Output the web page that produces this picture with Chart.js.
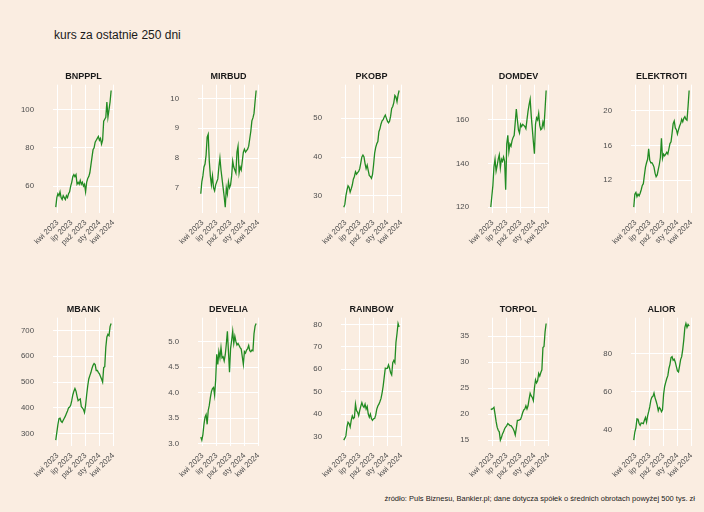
<!DOCTYPE html>
<html>
<head>
<meta charset="utf-8">
<script src="https://cdn.jsdelivr.net/npm/chart.js@4.4.1/dist/chart.umd.min.js"></script>
<style>
  body { margin: 0; width: 704px; height: 512px; background: #FAEDE1; position: relative; overflow: hidden;
         font-family: 'Liberation Sans', Arial, sans-serif; }
  #title { position: absolute; left: 54px; top: 28px; font-size: 12px; color: #1a1a1a; }
  #caption { position: absolute; right: 9px; top: 494px; font-size: 7.5px; color: #1a1a1a; }
  canvas { position: absolute; }
</style>
</head>
<body>
<div id="title">kurs za ostatnie 250 dni</div>
<div id="caption">źródło: Puls Biznesu, Bankier.pl; dane dotycza spółek o średnich obrotach powyżej 500 tys. zł</div>
<script>
// weekly closes
const dates = [
  '2023-03-20','2023-03-27','2023-04-03','2023-04-10','2023-04-17','2023-04-24','2023-05-01','2023-05-08',
  '2023-05-15','2023-05-22','2023-05-29','2023-06-05','2023-06-12','2023-06-19','2023-06-26','2023-07-03',
  '2023-07-10','2023-07-17','2023-07-24','2023-07-31','2023-08-07','2023-08-14','2023-08-21','2023-08-28',
  '2023-09-04','2023-09-11','2023-09-18','2023-09-25','2023-10-02','2023-10-09','2023-10-16','2023-10-23',
  '2023-10-30','2023-11-06','2023-11-13','2023-11-20','2023-11-27','2023-12-04','2023-12-11','2023-12-18',
  '2023-12-25','2024-01-01','2024-01-08','2024-01-15','2024-01-22','2024-01-29','2024-02-05','2024-02-12',
  '2024-02-19','2024-02-26','2024-03-04','2024-03-11','2024-03-18'
];

const bnpppl = [49,54,56,55,57,54,53,55,54,53,55,54,56,57,60,62,65,66,65,66,61,62,61,63,61,62,60,61,
  57,62,64,65,67,71,75,79,80,83,84,85,86,84,85,82,84,94,95,96,104,96,100,104,110];
const mirbud = [6.8,7.2,7.4,7.7,7.8,8.1,8.7,8.8,7.9,7.4,7.1,7.4,7.0,6.9,7.1,7.2,7.3,7.7,8.0,7.6,7.3,7.0,
  6.7,6.35,7.0,6.8,7.2,7.0,7.1,7.4,7.9,7.7,7.6,7.5,8.2,8.4,7.5,7.7,7.6,7.9,8.2,8.3,8.2,8.25,8.3,8.4,
  8.65,8.9,9.25,9.35,9.5,9.9,10.27];
const pkobp = [27.1,27.8,30.0,31.5,32.6,32.2,31.0,31.8,32.8,34.3,35.0,36.2,35.6,36.0,36.3,37.0,38.5,40.0,
  40.5,40.0,38.3,37.0,37.9,36.5,35.2,35.0,34.5,35.5,38.0,41.0,42.5,43.4,44.0,46.5,47.3,48.5,49.3,49.6,
  50.3,50.8,50.0,49.2,48.8,49.2,50.5,52.5,53.0,54.0,55.8,55.4,54.2,56.0,57.1];
const domdev = [120,125,130,138.5,142,136.5,139,142,144,138,142,141,143,141,128,149,153,145.5,149,148,
  150.5,152,153,159,165,160,155.5,154,158,157,158,157.5,157,156,160,164,167,169.5,162,156,150,144.5,
  158,161,160,163,157.5,155.5,156,159,157,165,173.5];
const elektroti = [8.9,10.4,10.6,10.1,10.4,10.2,10.5,10.9,11.4,11.6,12.6,13.5,14.0,14.4,15.6,14.3,14.0,
  14.0,13.8,13.5,12.8,12.4,12.6,13.2,13.8,14.6,16.8,14.5,15.0,14.8,15.0,15.2,15.0,15.6,16.2,16.4,17.4,
  18.5,18.8,18.0,17.8,17.3,17.8,18.2,18.5,19.0,18.7,19.1,19.3,19.0,18.9,20.5,22.3];
const mbank = [275,305,335,358,360,348,344,352,360,368,378,388,400,403,410,428,450,465,475,465,445,428,
  432,435,405,400,394,382,410,450,485,512,525,537,553,565,572,568,545,545,538,532,522,512,500,556,560,
  635,675,685,680,715,727];
const develia = [3.13,3.07,3.18,3.38,3.52,3.57,3.38,3.65,3.75,3.9,4.02,4.08,4.1,3.95,4.25,4.75,4.55,4.8,
  4.68,4.88,4.68,4.7,4.62,4.74,4.95,5.2,4.8,4.4,4.86,5.02,5.2,4.96,5.1,5.0,4.93,4.96,4.92,4.88,4.85,4.7,
  4.55,4.8,4.77,4.83,4.86,4.92,4.82,4.8,4.83,4.82,5.15,5.3,5.35];
const rainbow = [28.3,29.2,30.2,34.3,36.3,35.7,34.2,37.2,39.2,38.0,38.5,44.4,41.5,40.8,39.3,41.6,43.5,
  45.1,43.6,43.0,44.4,42.2,43.4,40.0,38.6,40.0,37.9,37.2,37.9,38.0,39.5,42.2,43.6,44.4,45.6,47.0,49.5,
  52.5,56.5,60.5,60.3,60.5,62.0,60.5,58.5,57.5,63.0,64.0,63.0,72.0,76.0,80.5,79.0];
const torpol = [21.0,20.9,21.1,21.3,20.0,18.6,17.5,16.9,16.6,15.0,15.5,16.2,16.6,17.2,17.5,17.8,18.2,
  18.0,17.8,17.8,17.5,17.2,16.7,16.0,17.3,18.8,18.8,18.9,19.0,19.6,20.3,20.8,21.0,21.6,21.0,21.6,22.9,
  24.0,23.5,23.2,22.6,25.0,26.6,26.0,26.4,27.8,27.3,28.0,28.5,32.8,33.0,35.8,37.4];
const alior = [34.5,38.8,41.0,45.7,45.5,43.3,42.3,43.6,43.5,43.2,45.0,46.5,44.0,47.3,49.5,52.0,55.5,57.2,
  57.6,59.4,56.8,55.0,53.0,50.0,51.7,51.0,49.5,50.5,58.5,62.8,65.0,67.0,68.5,72.3,74.5,78.0,78.5,76.6,
  77.2,75.6,73.3,71.0,70.5,73.5,77.0,78.5,82.4,87.5,94.0,96.0,94.0,95.5,94.6];

const panelNames = ['BNPPPL','MIRBUD','PKOBP','DOMDEV','ELEKTROTI','MBANK','DEVELIA','RAINBOW','TORPOL','ALIOR'];
const series = [bnpppl, mirbud, pkobp, domdev, elektroti, mbank, develia, rainbow, torpol, alior];
const yTicks = [
  [60,80,100],[7,8,9,10],[30,40,50],[120,140,160],[12,16,20],
  [300,400,500,600,700],[3,3.5,4,4.5,5],[30,40,50,60,70,80],[15,20,25,30,35],[40,60,80]
];
const yDecimals = [0,0,0,0,0,0,1,0,0,0];
const xTickDates = ['2023-04-01','2023-07-01','2023-10-01','2024-01-01','2024-04-01'];
const xTickLabels = ['kwi 2023','lip 2023','paź 2023','sty 2024','kwi 2024'];

Chart.defaults.font.family = "'Liberation Sans', Arial, sans-serif";

const colLeft = [53, 198, 341, 488, 631];
const rowTop = [80, 313];
const axisW = 45, axisH = 40, plotW = 64;

const makePanel = (i) => {
  const col = i % 5, row = Math.floor(i / 5);
  const canvas = document.createElement('canvas');
  canvas.width = axisW + plotW + 8;
  canvas.height = 192;
  canvas.style.left = (colLeft[col] - axisW) + 'px';
  canvas.style.top = (rowTop[row] - 19) + 'px';
  document.body.appendChild(canvas);

  const vals = series[i];
  const lo = Math.min(...vals), hi = Math.max(...vals);
  const yPad = (hi - lo) * 0.05;
  const t0 = Date.parse(dates[0]), t1 = Date.parse(dates[dates.length - 1]);
  const xPad = (t1 - t0) * 0.05;

  new Chart(canvas, {
    type: 'line',
    data: {
      datasets: [{
        data: dates.map((d, j) => ({ x: Date.parse(d), y: vals[j] })),
        borderColor: '#228B22',
        borderWidth: 1.3,
        pointRadius: 0,
        tension: 0
      }]
    },
    options: {
      responsive: false,
      animation: false,
      layout: { padding: 0 },
      plugins: {
        legend: { display: false },
        tooltip: { enabled: false },
        title: {
          display: true,
          text: panelNames[i],
          fullSize: false,
          color: '#1a1a1a',
          font: { size: 9, weight: 'bold' },
          padding: { top: 5, bottom: 3 }
        }
      },
      scales: {
        x: {
          type: 'linear',
          min: t0 - xPad,
          max: t1 + xPad,
          grid: { color: '#ffffff', lineWidth: 1, drawTicks: false },
          border: { display: false },
          afterBuildTicks: (s) => { s.ticks = xTickDates.map(d => ({ value: Date.parse(d) })); },
          afterFit: (s) => { s.height = axisH; },
          ticks: {
            autoSkip: false, minRotation: 45, maxRotation: 45, padding: 5,
            color: '#4d4d4d', font: { size: 7.8 },
            callback: (v, k) => xTickLabels[k]
          }
        },
        y: {
          min: lo - yPad,
          max: hi + yPad,
          grid: { color: '#ffffff', lineWidth: 1, drawTicks: false },
          border: { display: false },
          afterBuildTicks: (s) => { s.ticks = yTicks[i].map(v => ({ value: v })); },
          afterFit: (s) => { s.width = axisW; },
          ticks: {
            padding: 19, color: '#4d4d4d', font: { size: 7.8 },
            callback: (v) => v.toFixed(yDecimals[i])
          }
        }
      }
    }
  });
};

panelNames.forEach((n, i) => makePanel(i));
</script>
</body>
</html>
